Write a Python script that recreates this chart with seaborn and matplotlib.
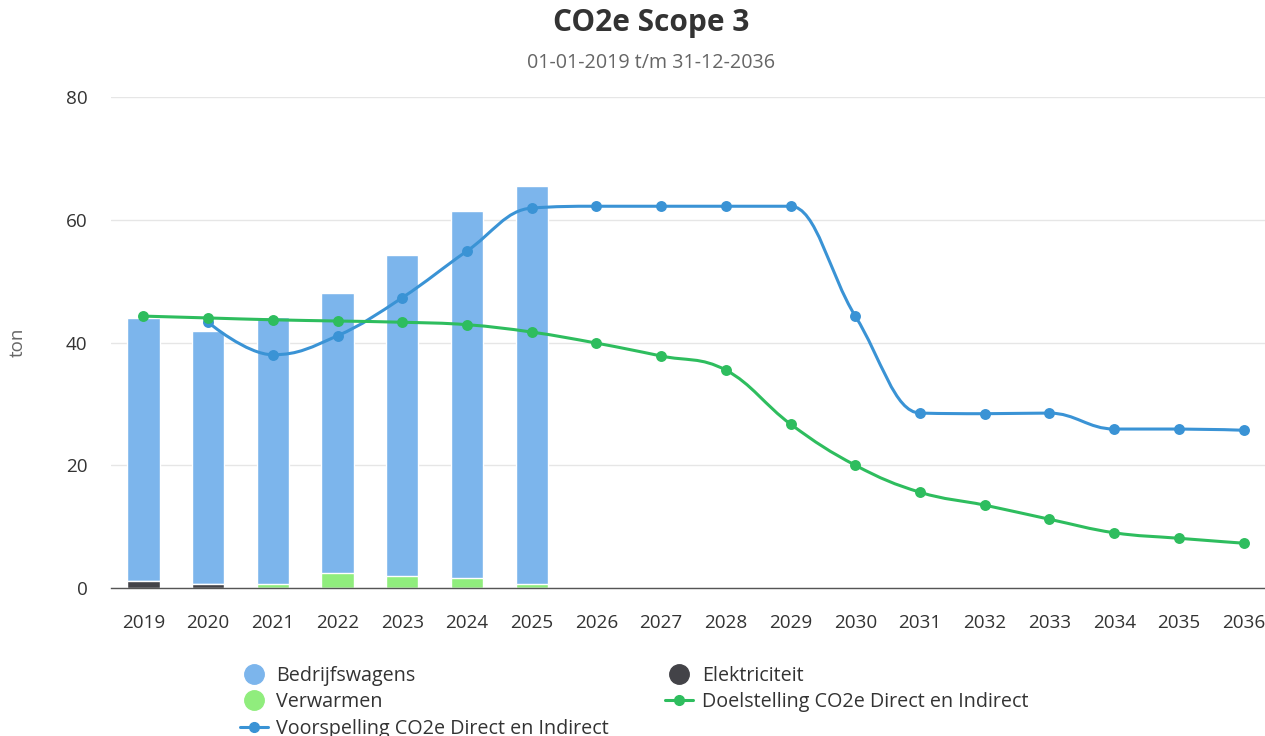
import pandas as pd
import seaborn as sns
import matplotlib.pyplot as plt
from matplotlib.path import Path
from matplotlib.patches import PathPatch
from matplotlib.lines import Line2D

# Data
years = [str(y) for y in range(2019, 2037)]
bar_years = ["2019", "2020", "2021", "2022", "2023", "2024", "2025"]
bedrijfswagens = [42.8, 41.2, 43.6, 45.7, 52.4, 59.8, 64.9]
elektriciteit = [1.2, 0.7, 0.0, 0.0, 0.0, 0.0, 0.0]
verwarmen = [0.0, 0.0, 0.6, 2.4, 1.9, 1.6, 0.6]

voorspelling_years = years[1:]
voorspelling = [43.3, 38.0, 41.1, 47.3, 54.9, 61.9, 62.2, 62.2, 62.2, 62.2,
                44.3, 28.5, 28.4, 28.5, 25.9, 25.9, 25.7]
doelstelling = [44.3, 44.0, 43.7, 43.5, 43.3, 42.9, 41.7, 39.9, 37.8, 35.5,
                26.7, 20.0, 15.6, 13.5, 11.2, 9.0, 8.1, 7.3]

c_bedr = "#7cb5ec"
c_elek = "#434348"
c_verw = "#90ed7d"
c_voor = "#3a93d5"
c_doel = "#2ebd5e"

sns.set_theme(style="white")
plt.rcParams["font.family"] = ["Open Sans", "DejaVu Sans"]


def spline_path(xs, ys, smoothing=1.5):
    # highcharts-style spline through the points
    n = len(xs)
    denom = smoothing + 1
    lc = [(xs[i], ys[i]) for i in range(n)]
    rc = [(xs[i], ys[i]) for i in range(n)]
    for i in range(1, n - 1):
        x, y = xs[i], ys[i]
        lx, ly = xs[i - 1], ys[i - 1]
        nx, ny = xs[i + 1], ys[i + 1]
        lcx = (smoothing * x + lx) / denom
        lcy = (smoothing * y + ly) / denom
        rcx = (smoothing * x + nx) / denom
        rcy = (smoothing * y + ny) / denom
        corr = ((rcy - lcy) * (rcx - x)) / (rcx - lcx) + y - rcy
        lcy += corr
        rcy += corr
        if lcy > max(ly, y):
            lcy = max(ly, y); rcy = 2 * y - lcy
        elif lcy < min(ly, y):
            lcy = min(ly, y); rcy = 2 * y - lcy
        if rcy > max(ny, y):
            rcy = max(ny, y); lcy = 2 * y - rcy
        elif rcy < min(ny, y):
            rcy = min(ny, y); lcy = 2 * y - rcy
        lc[i] = (lcx, lcy)
        rc[i] = (rcx, rcy)
    verts = [(xs[0], ys[0])]
    codes = [Path.MOVETO]
    for i in range(1, n):
        verts += [rc[i - 1], lc[i], (xs[i], ys[i])]
        codes += [Path.CURVE4] * 3
    return Path(verts, codes)


df = pd.DataFrame({"jaar": bar_years, "Bedrijfswagens": bedrijfswagens,
                   "Elektriciteit": elektriciteit, "Verwarmen": verwarmen})
df["totaal"] = df["Bedrijfswagens"] + df["Elektriciteit"] + df["Verwarmen"]
df["onder"] = df["Elektriciteit"] + df["Verwarmen"]

fig = plt.figure(figsize=(12.65, 7.36), dpi=100)
ax = fig.add_axes([111 / 1265, 1 - 588 / 736, 1165 / 1265, 491 / 736])

# stacked bars drawn as layered cumulative bars
for col, c in [("totaal", c_bedr), ("onder", c_verw), ("Elektriciteit", c_elek)]:
    sns.barplot(data=df, x="jaar", y=col, order=years, color=c, saturation=1,
                width=0.5, edgecolor="white", linewidth=1, ax=ax, zorder=2)

# lines
idx = {y: i for i, y in enumerate(years)}
for yrs, vals, c in [(voorspelling_years, voorspelling, c_voor), (years, doelstelling, c_doel)]:
    xs = [idx[y] for y in yrs]
    ax.add_patch(PathPatch(spline_path(xs, vals), facecolor="none", edgecolor=c,
                           lw=2.2, zorder=3, capstyle="round"))
    sns.scatterplot(x=xs, y=vals, color=c, s=62, linewidth=0, ax=ax, zorder=4)

ax.set_xlim(-0.5, len(years) - 0.5)
ax.set_ylim(0, 80)
ax.set_yticks([0, 20, 40, 60, 80])
ax.set_xticks(range(len(years)))
ax.set_xticklabels(years)
ax.set_xlabel("")
ax.set_ylabel("")
ax.grid(axis="y", color="#e6e6e6", lw=1)
ax.set_axisbelow(True)
for s in ["top", "right", "left"]:
    ax.spines[s].set_visible(False)
ax.spines["bottom"].set_color("#555555")
ax.spines["bottom"].set_linewidth(1)
ax.tick_params(axis="both", length=0, labelsize=13.6, colors="#333333")
ax.tick_params(axis="x", pad=19)
ax.tick_params(axis="y", pad=17)

fig.text(651 / 1265, 1 - 23 / 736, "CO2e Scope 3", ha="center", va="center",
         fontsize=21.5, fontweight="bold", color="#333333")
fig.text(651 / 1265, 1 - 63 / 736, "01-01-2019 t/m 31-12-2036", ha="center", va="center",
         fontsize=14.2, color="#666666")
fig.text(18 / 1265, 1 - 342 / 736, "ton", rotation=90, ha="center", va="center",
         fontsize=13.5, color="#666666")

handles = [
    Line2D([], [], ls="none", marker="o", ms=14, color=c_bedr),
    Line2D([], [], ls="none", marker="o", ms=14, color=c_verw),
    Line2D([], [], color=c_voor, lw=2.2, marker="o", ms=7),
    Line2D([], [], ls="none", marker="o", ms=14, color=c_elek),
    Line2D([], [], color=c_doel, lw=2.2, marker="o", ms=7),
]
labels = ["Bedrijfswagens", "Verwarmen", "Voorspelling CO2e Direct en Indirect",
          "Elektriciteit", "Doelstelling CO2e Direct en Indirect"]
fig.legend(handles, labels, ncol=2, loc="upper left", bbox_to_anchor=(232 / 1265, 1 - 658 / 736),
           frameon=False, fontsize=14.2, labelcolor="#333333", handlelength=1.4,
           handletextpad=0.45, columnspacing=2.85, labelspacing=0.33, borderaxespad=0)

fig.savefig("out.png", dpi=100)
